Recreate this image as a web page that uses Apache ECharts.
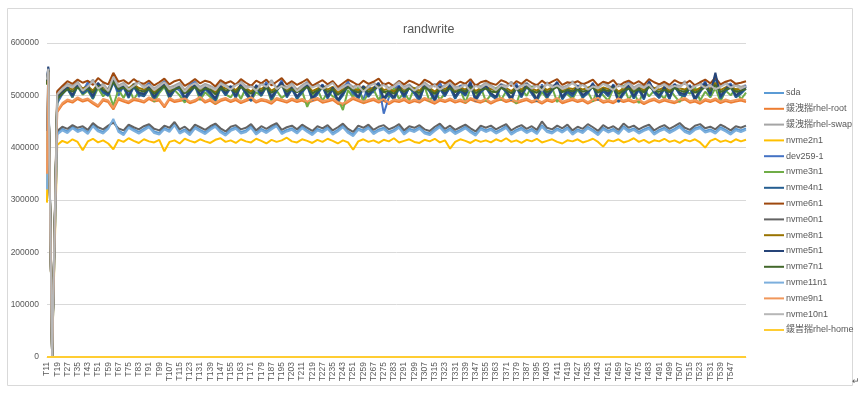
<!DOCTYPE html>
<html>
<head>
<meta charset="utf-8">
<script src="https://cdn.jsdelivr.net/npm/echarts@6/dist/echarts.min.js"></script>
<style>
  html, body { margin: 0; padding: 0; background: #fff; }
  #chart { width: 865px; height: 399px; }
</style>
</head>
<body>
<div id="chart"></div>
<script>
// T 序号（采样点）
const xs = [11, 12, 15,
  19, 23, 27, 31, 35, 39, 43, 47, 51, 55, 59, 63, 67, 71, 75, 79, 83,
  87, 91, 95, 99, 103, 107, 111, 115, 119, 123, 127, 131, 135, 139, 143, 147, 151,
  155, 159, 163, 167, 171, 175, 179, 183, 187, 191, 195, 199, 203, 207, 211, 215, 219,
  223, 227, 231, 235, 239, 243, 247, 251, 255, 259, 263, 267, 271, 275, 279, 283, 287,
  291, 295, 299, 303, 307, 311, 315, 319, 323, 327, 331, 335, 339, 343, 347, 351, 355,
  359, 363, 367, 371, 375, 379, 383, 387, 391, 395, 399, 403, 407, 411, 415, 419, 423,
  427, 431, 435, 439, 443, 447, 451, 455, 459, 463, 467, 471, 475, 479, 483, 487, 491,
  495, 499, 503, 507, 511, 515, 519, 523, 527, 531, 535, 539, 543, 547, 551, 555, 559]

// x轴刻度标签
const xLabels = [11, 19, 27, 35, 43, 51, 59, 67, 75, 83, 91, 99, 107, 115, 123, 131, 139,
  147, 155, 163, 171, 179, 187, 195, 203, 211, 219, 227, 235, 243, 251, 259, 267, 275,
  283, 291, 299, 307, 315, 323, 331, 339, 347, 355, 363, 371, 379, 387, 395, 403, 411,
  419, 427, 435, 443, 451, 459, 467, 475, 483, 491, 499, 507, 515, 523, 531, 539, 547]

const sda = [330000, 548000, 0,
  428000,436000,431000,440000,433000,437000,429000,445000,434000,430000,439000,452000,433000,427000,441000,435000,430000,
  436000,442000,431000,428000,438000,433000,446000,430000,435000,427000,440000,434000,429000,437000,443000,432000,426000,
  435000,439000,430000,433000,441000,428000,436000,431000,438000,444000,429000,434000,437000,430000,440000,433000,427000,
  436000,432000,439000,428000,434000,442000,431000,425000,437000,433000,440000,429000,435000,438000,430000,434000,441000,
  428000,436000,433000,439000,430000,427000,435000,442000,431000,437000,429000,434000,440000,432000,426000,438000,433000,
  437000,430000,435000,441000,428000,434000,438000,431000,436000,429000,443000,433000,430000,437000,432000,439000,428000,
  435000,431000,440000,434000,427000,438000,432000,436000,429000,441000,433000,437000,430000,435000,439000,428000,434000,
  438000,431000,436000,442000,433000,429000,437000,440000,432000,435000,430000,439000,434000,428000,436000,433000,437000]

const rhelRoot = [355000, 546000, 0,
  468000,482000,489000,486000,493000,488000,491000,484000,478000,490000,487000,473000,492000,488000,485000,491000,489000,
  486000,493000,488000,490000,477000,492000,487000,489000,491000,485000,488000,494000,486000,490000,483000,489000,492000,
  487000,491000,485000,489000,493000,486000,490000,488000,484000,492000,489000,486000,491000,487000,490000,485000,489000,
  492000,486000,488000,491000,484000,481000,487000,493000,489000,485000,488000,491000,486000,490000,483000,489000,487000,
  491000,485000,489000,486000,492000,488000,484000,490000,487000,491000,486000,489000,485000,492000,488000,486000,490000,
  484000,489000,492000,487000,490000,485000,488000,491000,486000,489000,484000,490000,487000,492000,485000,488000,491000,
  487000,490000,484000,489000,492000,486000,488000,485000,491000,487000,490000,486000,489000,483000,488000,491000,486000,
  490000,487000,485000,489000,492000,486000,488000,484000,490000,487000,491000,485000,489000,486000,488000,490000,487000]

const rhelSwap = [528000, 550000, 0,
  505000,515000,522000,518000,526000,512000,520000,530000,516000,522000,511000,538000,519000,524000,514000,521000,527000,
  517000,523000,513000,520000,528000,515000,519000,524000,510000,521000,526000,516000,522000,518000,513000,525000,520000,
  514000,522000,527000,517000,520000,512000,524000,519000,529000,515000,521000,516000,523000,511000,519000,526000,518000,
  522000,515000,520000,527000,513000,518000,524000,516000,521000,510000,519000,525000,517000,523000,514000,520000,528000,
  516000,521000,512000,519000,525000,517000,522000,514000,520000,527000,515000,518000,523000,511000,521000,517000,524000,
  519000,513000,522000,518000,526000,514000,520000,524000,516000,521000,512000,525000,518000,522000,515000,519000,527000,
  517000,523000,514000,520000,516000,525000,519000,513000,522000,518000,526000,515000,521000,517000,524000,512000,520000,
  523000,516000,521000,518000,527000,514000,520000,524000,517000,522000,515000,519000,525000,518000,521000,516000,520000]

const nvme2n1 = [295000, 545000, 0,
  405000,413000,409000,416000,411000,395000,412000,417000,410000,414000,408000,397000,415000,411000,418000,413000,409000,
  416000,412000,410000,415000,393000,411000,414000,408000,417000,413000,410000,416000,412000,409000,415000,418000,411000,
  414000,409000,416000,412000,410000,417000,413000,408000,415000,411000,414000,419000,412000,410000,416000,413000,409000,
  415000,411000,417000,413000,408000,414000,410000,396000,412000,416000,411000,414000,409000,415000,412000,418000,410000,
  413000,416000,411000,409000,415000,412000,417000,410000,414000,398000,411000,416000,413000,409000,415000,411000,414000,
  410000,416000,412000,418000,411000,414000,409000,415000,412000,417000,410000,413000,416000,411000,408000,414000,412000,
  416000,410000,413000,417000,411000,402000,414000,412000,416000,410000,413000,418000,411000,415000,409000,414000,412000,
  417000,411000,414000,409000,415000,412000,416000,410000,400000,413000,417000,411000,414000,410000,416000,412000,415000]

const dev259 = [525000, 552000, 0,
  485000,502000,515000,496000,520000,508000,525000,494000,517000,503000,512000,530000,499000,518000,505000,522000,497000,
  510000,524000,495000,513000,527000,500000,516000,509000,491000,519000,526000,498000,514000,506000,489000,521000,503000,
  517000,496000,523000,508000,493000,520000,501000,526000,497000,512000,529000,499000,515000,494000,511000,524000,490000,
  507000,521000,495000,516000,488000,509000,527000,498000,513000,492000,518000,505000,522000,465000,496000,511000,519000,
  494000,516000,503000,488000,521000,508000,497000,525000,501000,514000,493000,519000,506000,527000,490000,511000,518000,
  502000,495000,520000,509000,491000,523000,499000,515000,507000,489000,521000,500000,512000,526000,496000,514000,504000,
  519000,497000,508000,524000,492000,513000,503000,521000,488000,510000,525000,498000,516000,494000,528000,506000,495000,
  517000,493000,522000,505000,499000,520000,491000,512000,527000,501000,538000,496000,514000,523000,497000,508000,519000]

const nvme3n1 = [520000, 547000, 0,
  490000,505000,512000,496000,517000,501000,509000,493000,514000,498000,508000,480000,511000,495000,515000,492000,507000,
  499000,513000,488000,504000,516000,494000,510000,500000,486000,512000,518000,491000,506000,497000,485000,514000,502000,
  496000,511000,493000,515000,490000,506000,499000,517000,488000,509000,495000,503000,519000,492000,508000,478000,500000,
  513000,489000,507000,498000,494000,472000,510000,496000,516000,487000,505000,512000,491000,509000,497000,514000,493000,
  506000,490000,515000,499000,517000,488000,508000,492000,503000,518000,495000,511000,486000,513000,497000,516000,489000,
  501000,514000,491000,508000,496000,484000,512000,499000,517000,489000,506000,494000,515000,487000,510000,502000,493000,
  511000,495000,507000,488000,515000,500000,490000,513000,497000,518000,492000,506000,485000,512000,498000,509000,503000,
  494000,512000,499000,487000,510000,503000,516000,490000,507000,496000,514000,488000,509000,500000,513000,492000,505000]

const nvme4n1 = [526000, 553000, 0,
  492000,503000,512000,497000,518000,503000,511000,494000,520000,506000,499000,524000,507000,515000,495000,516000,501000,
  498000,513000,493000,508000,519000,495000,510000,516000,491000,504000,517000,497000,512000,502000,490000,514000,500000,
  514000,495000,518000,502000,489000,515000,499000,517000,492000,508000,521000,496000,511000,494000,505000,518000,491000,
  502000,516000,494000,511000,487000,500000,518000,506000,493000,514000,497000,509000,520000,490000,503000,492000,513000,
  496000,515000,504000,491000,518000,507000,488000,512000,498000,517000,494000,508000,499000,520000,489000,505000,515000,
  500000,493000,517000,505000,490000,515000,496000,519000,503000,489000,513000,495000,509000,521000,492000,506000,498000,
  514000,496000,504000,518000,491000,508000,498000,516000,487000,502000,515000,494000,510000,492000,522000,505000,495000,
  512000,493000,517000,501000,498000,514000,490000,506000,520000,499000,536000,494000,508000,516000,496000,503000,513000]

const nvme6n1 = [524000, 549000, 0,
  508000,518000,527000,522000,530000,524000,528000,520000,533000,525000,521000,543000,526000,529000,522000,531000,524000,
  522000,528000,519000,525000,532000,521000,527000,530000,518000,524000,531000,523000,528000,525000,517000,529000,523000,
  527000,520000,531000,524000,518000,528000,523000,530000,519000,526000,533000,521000,527000,520000,525000,531000,518000,
  524000,529000,521000,527000,516000,523000,530000,525000,519000,528000,522000,526000,532000,520000,524000,517000,527000,
  521000,528000,524000,519000,530000,525000,517000,527000,523000,529000,520000,526000,522000,531000,518000,525000,528000,
  523000,520000,529000,525000,518000,527000,522000,530000,524000,519000,528000,521000,526000,531000,520000,525000,523000,
  527000,521000,525000,530000,519000,526000,523000,529000,517000,524000,528000,522000,527000,520000,531000,525000,521000,
  526000,520000,529000,524000,522000,528000,519000,525000,530000,523000,534000,521000,526000,529000,522000,524000,527000]

const nvme0n1 = [432000, 546000, 0,
  432000,440000,436000,443000,438000,441000,434000,447000,439000,435000,442000,448000,437000,433000,444000,439000,435000,
  441000,445000,436000,433000,442000,438000,449000,435000,440000,432000,444000,439000,434000,441000,446000,437000,431000,
  440000,443000,435000,438000,445000,433000,441000,436000,442000,447000,434000,439000,442000,435000,444000,438000,432000,
  441000,437000,443000,433000,439000,446000,436000,430000,442000,438000,444000,434000,440000,443000,435000,439000,445000,
  433000,441000,438000,443000,435000,432000,440000,446000,436000,442000,434000,439000,444000,437000,431000,442000,438000,
  442000,435000,440000,445000,433000,439000,443000,436000,441000,434000,450000,438000,435000,442000,437000,444000,433000,
  440000,436000,445000,439000,432000,443000,437000,441000,434000,446000,438000,442000,435000,440000,444000,433000,439000,
  443000,436000,441000,447000,438000,434000,442000,445000,437000,440000,435000,444000,439000,433000,441000,438000,442000]

const nvme8n1 = [522000, 548000, 0,
  498000,507000,516000,511000,520000,513000,517000,509000,522000,515000,510000,530000,516000,519000,512000,521000,514000,
  511000,517000,507000,515000,522000,510000,516000,519000,508000,514000,520000,512000,517000,515000,506000,518000,513000,
  516000,510000,520000,514000,507000,517000,512000,519000,509000,515000,522000,511000,516000,510000,514000,520000,508000,
  513000,518000,511000,516000,505000,512000,519000,514000,509000,517000,511000,515000,521000,510000,513000,507000,516000,
  511000,517000,513000,509000,519000,514000,507000,516000,512000,518000,510000,515000,511000,520000,508000,514000,517000,
  512000,510000,518000,514000,508000,516000,511000,519000,513000,509000,517000,510000,515000,520000,510000,514000,512000,
  516000,511000,514000,519000,509000,515000,512000,518000,507000,513000,517000,511000,516000,510000,520000,514000,511000,
  515000,510000,518000,513000,511000,517000,509000,514000,519000,512000,524000,510000,515000,518000,511000,513000,516000]

const nvme5n1 = [527000, 555000, 0,
  496000,506000,515000,500000,522000,507000,517000,498000,524000,510000,503000,528000,511000,519000,499000,520000,505000,
  502000,517000,497000,512000,523000,499000,514000,520000,495000,508000,521000,501000,516000,506000,494000,518000,504000,
  518000,499000,522000,506000,493000,519000,503000,521000,496000,512000,525000,500000,515000,498000,509000,522000,495000,
  506000,520000,498000,515000,491000,504000,522000,510000,497000,518000,501000,513000,524000,494000,507000,496000,517000,
  500000,519000,508000,495000,522000,511000,492000,516000,502000,521000,498000,512000,503000,524000,493000,509000,519000,
  504000,497000,521000,509000,494000,519000,500000,523000,507000,493000,517000,499000,513000,525000,496000,510000,502000,
  518000,500000,508000,522000,495000,512000,502000,520000,491000,506000,519000,498000,514000,496000,526000,509000,499000,
  516000,497000,521000,505000,502000,518000,494000,510000,524000,503000,543000,498000,512000,520000,500000,507000,517000]

const nvme7n1 = [521000, 547000, 0,
  494000,503000,512000,507000,515000,509000,513000,505000,518000,511000,506000,526000,512000,515000,508000,517000,510000,
  507000,513000,503000,511000,518000,506000,512000,515000,504000,510000,516000,508000,513000,511000,502000,514000,509000,
  512000,506000,516000,510000,503000,513000,508000,515000,505000,511000,518000,507000,512000,506000,510000,516000,504000,
  509000,514000,507000,512000,501000,508000,515000,510000,505000,513000,507000,511000,517000,506000,509000,503000,512000,
  507000,513000,509000,505000,515000,510000,503000,512000,508000,514000,506000,511000,507000,516000,504000,510000,513000,
  508000,506000,514000,510000,504000,512000,507000,515000,509000,505000,513000,506000,511000,516000,506000,510000,508000,
  512000,507000,510000,515000,505000,511000,508000,514000,503000,509000,513000,507000,512000,506000,516000,510000,507000,
  511000,506000,514000,509000,507000,513000,505000,510000,515000,508000,520000,506000,511000,514000,507000,509000,512000]

const nvme11n1 = [320000, 544000, 0,
  425000,433000,428000,437000,430000,434000,426000,441000,431000,427000,436000,455000,430000,424000,438000,432000,427000,
  433000,439000,428000,425000,435000,430000,443000,427000,432000,424000,437000,431000,426000,434000,440000,429000,423000,
  432000,436000,427000,430000,438000,425000,433000,428000,435000,441000,426000,431000,434000,427000,437000,430000,424000,
  433000,429000,436000,425000,431000,439000,428000,422000,434000,430000,437000,426000,432000,435000,427000,431000,438000,
  425000,433000,430000,436000,427000,424000,432000,439000,428000,434000,426000,431000,437000,429000,423000,435000,430000,
  434000,427000,432000,438000,425000,431000,435000,428000,433000,426000,440000,430000,427000,434000,429000,436000,425000,
  432000,428000,437000,431000,424000,435000,429000,433000,426000,438000,430000,434000,427000,432000,436000,425000,431000,
  435000,428000,433000,439000,430000,426000,434000,437000,429000,432000,427000,436000,431000,425000,433000,430000,434000]

const nvme9n1 = [350000, 545000, 0,
  470000,485000,492000,489000,496000,491000,494000,487000,481000,493000,490000,476000,495000,491000,488000,494000,492000,
  489000,496000,491000,493000,480000,495000,490000,492000,494000,488000,491000,497000,489000,493000,486000,492000,495000,
  490000,494000,488000,492000,496000,489000,493000,491000,487000,495000,492000,489000,494000,490000,493000,488000,492000,
  495000,489000,491000,494000,487000,484000,490000,496000,492000,488000,491000,494000,489000,493000,486000,492000,490000,
  494000,488000,492000,489000,495000,491000,487000,493000,490000,494000,489000,492000,488000,495000,491000,489000,493000,
  487000,492000,495000,490000,493000,488000,491000,494000,489000,492000,487000,493000,490000,495000,488000,491000,494000,
  490000,493000,487000,492000,495000,489000,491000,488000,494000,490000,493000,489000,492000,486000,491000,494000,489000,
  493000,490000,488000,492000,495000,489000,491000,487000,493000,490000,494000,488000,492000,489000,491000,493000,490000]

const nvme10n1 = [530000, 551000, 0,
  502000,512000,519000,515000,523000,509000,517000,527000,513000,519000,508000,535000,516000,521000,511000,518000,524000,
  514000,520000,510000,517000,525000,512000,516000,521000,507000,518000,523000,513000,519000,515000,510000,522000,517000,
  511000,519000,524000,514000,517000,509000,521000,516000,526000,512000,518000,513000,520000,508000,516000,523000,515000,
  519000,512000,517000,524000,510000,515000,521000,513000,518000,507000,516000,522000,514000,520000,511000,517000,525000,
  513000,518000,509000,516000,522000,514000,519000,511000,517000,524000,512000,515000,520000,508000,518000,514000,521000,
  516000,510000,519000,515000,523000,511000,517000,521000,513000,518000,509000,522000,515000,519000,512000,516000,524000,
  514000,520000,511000,517000,513000,522000,516000,510000,519000,515000,523000,512000,518000,514000,521000,509000,517000,
  520000,513000,518000,515000,524000,511000,517000,521000,514000,519000,512000,516000,522000,515000,518000,513000,517000]

const rhelHome = [0, 0, 0,
  0,0,0,0,0,0,0,0,0,0,0,0,0,0,0,0,0,
  0,0,0,0,0,0,0,0,0,0,0,0,0,0,0,0,0,
  0,0,0,0,0,0,0,0,0,0,0,0,0,0,0,0,0,
  0,0,0,0,0,0,0,0,0,0,0,0,0,0,0,0,0,
  0,0,0,0,0,0,0,0,0,0,0,0,0,0,0,0,0,
  0,0,0,0,0,0,0,0,0,0,0,0,0,0,0,0,0,
  0,0,0,0,0,0,0,0,0,0,0,0,0,0,0,0,0,
  0,0,0,0,0,0,0,0,0,0,0,0,0,0,0,0,0]

const names = ['sda', '鍰洩揣rhel-root', '鍰洩揣rhel-swap', 'nvme2n1', 'dev259-1', 'nvme3n1',
  'nvme4n1', 'nvme6n1', 'nvme0n1', 'nvme8n1', 'nvme5n1', 'nvme7n1', 'nvme11n1', 'nvme9n1',
  'nvme10n1', '鍰旹揣rhel-home']
const values = [sda, rhelRoot, rhelSwap, nvme2n1, dev259, nvme3n1, nvme4n1, nvme6n1,
  nvme0n1, nvme8n1, nvme5n1, nvme7n1, nvme11n1, nvme9n1, nvme10n1, rhelHome]

// Excel 默认配色
const colors = ['#5B9BD5', '#ED7D31', '#A5A5A5', '#FFC000', '#4472C4', '#70AD47',
  '#255E91', '#9E480E', '#636363', '#997300', '#264478', '#43682B',
  '#7CAFDD', '#F1975A', '#B7B7B7', '#FFCD33']

const font = "'Liberation Sans', 'Noto Sans CJK SC', sans-serif"
const textColor = '#595959'
const gridColor = '#d9d9d9'

const option = {
  animation: false,
  color: colors,
  title: {
    text: 'randwrite',
    left: 398,
    top: 18,
    textStyle: { color: textColor, fontSize: 12.5, fontWeight: 'normal', fontFamily: font },
  },
  legend: {
    orient: 'vertical',
    left: 759,
    top: 82,
    icon: 'rect',
    itemWidth: 20,
    itemHeight: 2,
    itemGap: 3.8,
    data: names,
    textStyle: { color: textColor, fontSize: 9, lineHeight: 12, fontFamily: font, padding: [0, 0, 0, -3] },
  },
  grid: { left: 47, right: 119, top: 43, bottom: 42 },
  xAxis: {
    type: 'value',
    min: 11,
    max: 559,
    axisLine: { show: true, lineStyle: { color: gridColor } },
    axisTick: { show: false },
    splitLine: { show: false },
    axisLabel: {
      customValues: xLabels,
      formatter: (v) => 'T' + v,
      rotate: 90,
      margin: 5,
      fontSize: 8.5,
      color: textColor,
      fontFamily: font,
    },
  },
  yAxis: {
    type: 'value',
    min: 0,
    max: 600000,
    interval: 100000,
    axisLine: { show: false },
    axisTick: { show: false },
    splitLine: { lineStyle: { color: gridColor } },
    axisLabel: {
      formatter: (v) => String(v),
      color: textColor,
      fontSize: 8.5,
      margin: 8,
      fontFamily: font,
    },
  },
  graphic: [
    {
      type: 'rect',
      shape: { x: 7.5, y: 8.5, width: 845, height: 377 },
      style: { fill: 'none', stroke: gridColor, lineWidth: 1 },
      silent: true,
    },
    {
      type: 'text',
      left: 852,
      top: 377,
      style: { text: '↵', fontSize: 9, fill: '#595959' },
      silent: true,
    },
  ],
  series: names.map((name, i) => ({
    name: name,
    type: 'line',
    symbol: 'none',
    lineStyle: { width: 2 },
    emphasis: { disabled: true },
    data: xs.map((x, j) => [x, values[i][j]]),
  })),
}

echarts.init(document.getElementById('chart')).setOption(option)
</script>
</body>
</html>
